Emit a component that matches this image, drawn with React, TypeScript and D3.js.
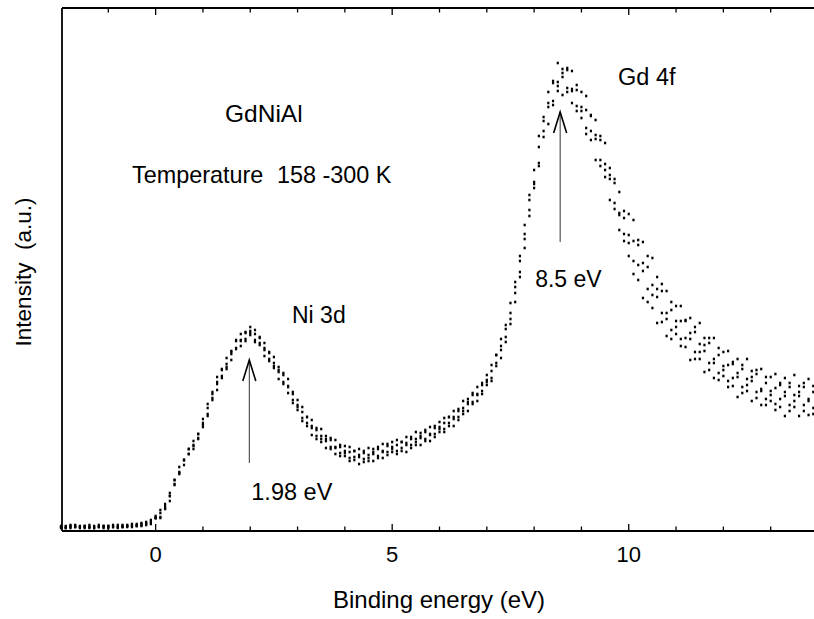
import React from "react";
import * as d3 from "d3";

// Photoemission spectra of GdNiAl, several temperature scans (158–300 K)
const energyStart = -2;
const energyStep = 0.1;

const scanA = [
  5,5,6,6,5,5,6,5,6,5,5,6,6,6,6,7,7,8,9,11,
  15,21,25,38,51,64,71,82,90,97,
  112,127,137,154,162,173,180,191,197,199,
  204,201,193,188,179,174,164,158,152,139,
  131,124,114,111,103,102,95,93,91,86,
  85,84,80,82,80,83,82,84,87,87,
  89,91,89,94,94,99,98,101,104,105,
  109,113,114,120,122,130,132,138,144,148,
  156,166,176,192,206,228,249,275,306,336,
  361,395,410,439,450,468,462,463,460,446,
  439,435,415,411,395,388,363,352,339,320,
  317,311,291,289,275,273,254,247,240,229,
  225,225,210,213,204,208,193,193,193,183,
  179,180,167,172,166,172,160,161,162,154,
  154,157,146,153,148,156,145,148,152,145,147,
];
const scanB = [
  4,4,5,5,4,5,4,4,5,5,5,5,4,5,5,6,6,7,8,10,
  13,18,27,35,51,59,71,82,85,97,
  108,123,139,149,161,167,179,190,191,198,
  200,197,194,183,178,168,161,156,145,137,
  126,119,114,105,101,95,92,91,84,84,
  80,79,80,76,78,76,79,82,80,85,
  84,86,89,88,92,92,95,99,97,103,
  104,108,114,114,120,123,129,136,137,146,
  151,160,176,185,202,218,244,270,297,331,
  349,384,414,428,448,449,458,461,442,441,
  424,421,416,396,391,367,356,348,318,313,
  296,290,286,268,264,246,242,240,218,221,
  210,210,211,198,199,187,186,188,172,176,
  165,166,169,158,162,152,154,157,142,148,
  140,143,148,139,144,136,139,144,132,139,133,
];
const scanC = [
  4,3,4,4,4,4,4,3,4,4,4,4,4,4,5,5,5,6,7,8,
  13,14,23,35,47,58,71,77,86,93,
  106,117,133,147,155,164,177,183,190,192,
  198,191,188,181,172,165,159,149,144,131,
  124,113,108,103,95,92,90,84,83,78,
  78,73,74,74,72,73,77,75,79,79,
  82,80,83,86,86,89,93,92,96,97,
  102,102,108,112,114,120,127,129,136,140,
  149,153,168,181,194,212,238,259,292,321,
  347,368,400,424,430,445,454,443,440,425,
  420,403,400,392,371,361,352,328,316,297,
  288,270,266,260,242,236,234,218,212,201,
  204,192,193,192,179,179,180,168,168,158,
  161,150,153,154,144,146,150,139,140,132,
  136,127,132,135,126,130,135,126,130,123,129,
];
const scanD = [
  3,3,3,4,3,3,3,3,4,3,3,4,3,4,4,4,5,5,6,7,
  13,13,22,30,46,57,66,77,82,92,
  104,115,131,141,153,162,171,182,185,190,
  196,189,186,175,170,163,152,147,138,128,
  121,110,105,96,92,89,83,82,77,75,
  75,70,71,67,69,70,70,73,73,76,
  79,77,80,79,83,86,86,90,90,94,
  99,99,105,105,111,117,120,127,130,137,
  146,150,165,173,189,207,229,254,283,315,
  343,365,394,407,426,440,436,439,428,420,
  413,397,391,371,365,354,331,322,301,290,
  275,257,251,233,229,223,208,209,195,192,
  197,185,184,171,172,172,159,161,153,151,
  155,144,145,134,138,140,130,133,126,126,
  130,121,124,115,120,124,115,120,116,117,123,
];
const scans = [scanA, scanB, scanC, scanD];

const xTicksMajor = [0, 5, 10];
const xTicksMinor = [-1, 1, 2, 3, 4, 6, 7, 8, 9, 11, 12, 13];

// annotations: arrows at peak energies
const arrowEnergies = [1.98, 8.55];
const arrowLabels = ["1.98 eV", "8.5 eV"];
const peakLabels = ["Ni 3d", "Gd 4f"];

const W = 814;
const H = 619;
const left = 62;
const top = 8;
const bottom = 531;

const FONT = "'Liberation Sans', Arial, Helvetica, sans-serif";

export default function App() {
  const x = d3.scaleLinear().domain([-2, 14]).range([61, 818]);
  const y = d3.scaleLinear().domain([0, 523]).range([bottom, top]);

  const points: { e: number; v: number; k: string }[] = [];
  scans.forEach((s, si) =>
    s.forEach((v, i) => {
      const e = energyStart + i * energyStep;
      points.push({ e, v, k: `${si}-${i}` });
    })
  );

  // arrow geometry: shaft from base to tip (values in intensity units)
  const arrowBase = [68, 289];
  const arrowTip = [171, 419];
  const labelPos = [
    { text: arrowLabels[0], e: 1.98, v: 31, dx: 2, size: 23.5 },
    { text: arrowLabels[1], e: 8.55, v: 244, dx: -25, size: 23 },
  ];

  return (
    <svg
      width={W}
      height={H}
      style={{ position: "absolute", left: 0, top: 0, background: "#fff" }}
      fontFamily={FONT}
    >
      <rect x={0} y={0} width={W} height={H} fill="#fff" />
      {/* frame */}
      <line x1={left} x2={W} y1={top} y2={top} stroke="#000" strokeWidth={1.8} />
      <line x1={left} x2={W} y1={bottom} y2={bottom} stroke="#000" strokeWidth={1.8} />
      <line x1={left} x2={left} y1={top} y2={bottom} stroke="#000" strokeWidth={1.8} />
      {/* ticks */}
      {xTicksMajor.map((t) => (
        <g key={"M" + t}>
          <line x1={x(t)} x2={x(t)} y1={bottom} y2={bottom - 7} stroke="#000" strokeWidth={1.3} />
          <line x1={x(t)} x2={x(t)} y1={top} y2={top + 7} stroke="#000" strokeWidth={1.3} />
          <text x={x(t)} y={562} textAnchor="middle" fontSize={22}>
            {t}
          </text>
        </g>
      ))}
      {xTicksMinor.map((t) => (
        <g key={"m" + t}>
          <line x1={x(t)} x2={x(t)} y1={bottom} y2={bottom - 4.5} stroke="#000" strokeWidth={1.3} />
          <line x1={x(t)} x2={x(t)} y1={top} y2={top + 4.5} stroke="#000" strokeWidth={1.3} />
        </g>
      ))}
      {/* data points */}
      <g fill="#000">
        {points.map((p) => (
          <rect key={p.k} x={x(p.e) - 1.1} y={y(p.v) - 1.3} width={2.2} height={2.6} />
        ))}
      </g>
      {/* arrows */}
      {arrowEnergies.map((e, i) => {
        const xx = x(e);
        const yb = y(arrowBase[i]);
        const yt = y(arrowTip[i]);
        return (
          <g key={"a" + i}>
            <line x1={xx} x2={xx} y1={yb} y2={yt} stroke="#333" strokeWidth={1} />
            <path
              d={`M${xx - 6.5},${yt + 21} L${xx},${yt} L${xx + 6.5},${yt + 21}`}
              fill="none"
              stroke="#000"
              strokeWidth={1.6}
            />
          </g>
        );
      })}
      {labelPos.map((l, i) => (
        <text key={"l" + i} x={x(l.e) + l.dx} y={y(l.v)} fontSize={l.size}>
          {l.text}
        </text>
      ))}
      <text x={292} y={323} fontSize={23}>{peakLabels[0]}</text>
      <text x={618} y={85} fontSize={23.5}>{peakLabels[1]}</text>
      <text x={225} y={122} fontSize={24.5}>GdNiAl</text>
      <text x={132} y={183} fontSize={23.4}>Temperature</text>
      <text x={277} y={183} fontSize={23.4}>158 -300 K</text>
      {/* axis titles */}
      <text x={439} y={608} fontSize={24} textAnchor="middle">
        Binding energy (eV)
      </text>
      <text
        transform={`translate(31,272) rotate(-90)`}
        fontSize={22.5}
        textAnchor="middle"
        style={{ whiteSpace: "pre" }}
      >
        {"Intensity  (a.u.)"}
      </text>
    </svg>
  );
}
